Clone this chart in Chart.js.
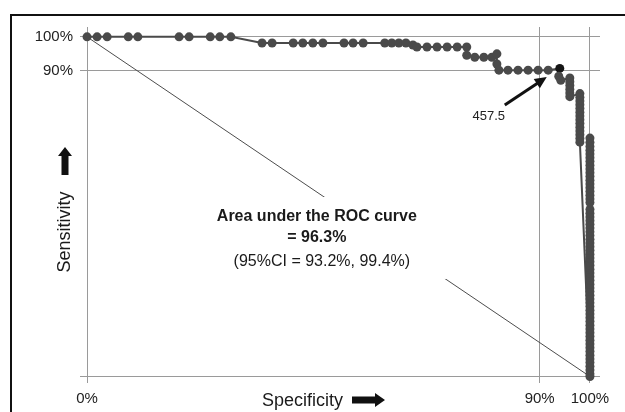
<!DOCTYPE html>
<html><head><meta charset="utf-8">
<script src="https://cdn.jsdelivr.net/npm/chart.js@4/dist/chart.umd.min.js"></script>
<style>html,body{margin:0;padding:0;background:#fff}#wrap{width:625px;height:412px;position:relative}canvas{display:block}</style>
</head><body><div id="wrap"><canvas id="c" width="625" height="412"></canvas></div>
<script>
// ---- data ----
const specificity = [
  0, 2.0, 4.0, 8.2, 10.1, 18.3, 20.3, 24.5, 26.4, 28.6,
  34.8, 36.8, 41.0, 42.9, 44.9, 46.9, 51.1, 52.9, 54.9, 59.2, 60.6, 62.0, 63.4, 64.8,
  65.6, 67.6, 69.6, 71.6, 73.6, 75.5,
  75.5, 77.1, 78.9, 80.5, 81.5, 81.5,
  81.9, 83.7, 85.7, 87.7, 89.7, 91.7,
  94.0,
  93.8, 94.2,
  96.0, 96.0, 96.0, 96.0, 96.0, 96.0,
  98.0, 98.0, 98.0, 98.0, 98.0, 98.0, 98.0, 98.0, 98.0, 98.0, 98.0, 98.0, 98.0, 98.0,
  100, 100, 100, 100, 100, 100, 100, 100, 100, 100, 100, 100, 100, 100, 100, 100,
  100, 100, 100, 100, 100, 100, 100, 100, 100, 100, 100, 100, 100, 100, 100, 100,
  100, 100, 100, 100, 100, 100, 100, 100, 100, 100, 100, 100, 100, 100,
  100, 100, 100, 100, 100, 100, 100, 100, 100, 100, 100, 100, 100, 100, 100, 100, 100, 100
];
const sensitivity = [
  100, 100, 100, 100, 100, 100, 100, 100, 100, 100,
  98.2, 98.2, 98.2, 98.2, 98.2, 98.2, 98.2, 98.2, 98.2, 98.2, 98.2, 98.2, 98.2, 97.6,
  97.0, 97.0, 97.0, 97.0, 97.0, 97.0,
  94.6, 94.0, 94.0, 94.0, 95.0, 92.0,
  90.2, 90.2, 90.2, 90.2, 90.2, 90.2,
  90.7,
  88.4, 87.2,
  87.9, 86.8, 85.7, 84.6, 83.5, 82.4,
  83.3, 82.2, 81.1, 80.0, 78.9, 77.8, 76.7, 75.6, 74.5, 73.4, 72.3, 71.2, 70.1, 69.0,
  0, 0.8, 1.9, 3.0, 4.1, 5.2, 6.3, 7.4, 8.5, 9.6, 10.7, 11.8, 12.9, 14.0, 15.1, 16.2,
  17.3, 18.4, 19.5, 20.6, 21.7, 22.8, 23.9, 25.0, 26.1, 27.2, 28.3, 29.4, 30.5, 31.6, 32.7, 33.8,
  34.9, 36.0, 37.1, 38.2, 39.3, 40.4, 41.5, 42.6, 43.7, 44.8, 45.9, 47.0, 48.1, 49.2,
  51.2, 52.3, 53.4, 54.5, 55.6, 56.7, 57.8, 58.9, 60.0, 61.1, 62.2, 63.3, 64.4, 65.5, 66.6, 67.7, 68.9, 70.2
];
const cutoffIndex = 42;           // highlighted optimal cut-off point
const cutoffLabel = '457.5';
const xTickValues = [0, 90, 100];
const yTickValues = [0, 90, 100];
const chanceX = [0, 100];
const chanceY = [100, 0];
const aucLines = ['Area under the ROC curve', '= 96.3%'];
const ciLine = '(95%CI = 93.2%, 99.4%)';
const aucAnchor = {x: 45.7, y: 45.8};
const xTitle = 'Specificity';
const yTitle = 'Sensitivity';

// ---- build chart ----
const FONT = "'Liberation Sans', Arial, Helvetica, sans-serif";
const curvePts = specificity.map((v, i) => ({x: v, y: sensitivity[i]}));
const chancePts = chanceX.map((v, i) => ({x: v, y: chanceY[i]}));
const ptColors = specificity.map((_, i) => i === cutoffIndex ? '#151515' : '#4a4a4a');

function arrowHead(ctx, x1, y1, x2, y2, len, wid) {
  const a = Math.atan2(y2 - y1, x2 - x1);
  ctx.beginPath();
  ctx.moveTo(x2, y2);
  ctx.lineTo(x2 - len * Math.cos(a) + wid / 2 * Math.sin(a), y2 - len * Math.sin(a) - wid / 2 * Math.cos(a));
  ctx.lineTo(x2 - len * Math.cos(a) - wid / 2 * Math.sin(a), y2 - len * Math.sin(a) + wid / 2 * Math.cos(a));
  ctx.closePath();
  ctx.fill();
}
function blockArrow(ctx, x1, y1, x2, y2, shaft, headLen, headWid) {
  const a = Math.atan2(y2 - y1, x2 - x1);
  const L = Math.hypot(x2 - x1, y2 - y1);
  ctx.save();
  ctx.translate(x1, y1);
  ctx.rotate(a);
  ctx.beginPath();
  ctx.moveTo(0, -shaft / 2);
  ctx.lineTo(L - headLen, -shaft / 2);
  ctx.lineTo(L - headLen, -headWid / 2);
  ctx.lineTo(L, 0);
  ctx.lineTo(L - headLen, headWid / 2);
  ctx.lineTo(L - headLen, shaft / 2);
  ctx.lineTo(0, shaft / 2);
  ctx.closePath();
  ctx.fill();
  ctx.restore();
}

const decor = {
  id: 'decor',
  beforeDraw(chart) {
    const ctx = chart.ctx;
    ctx.save();
    ctx.fillStyle = '#fff';
    ctx.fillRect(0, 0, chart.width, chart.height);
    ctx.restore();
  },
  afterDatasetsDraw(chart) {
    const {ctx, scales: {x, y}} = chart;
    const cx = x.getPixelForValue(aucAnchor.x);
    const by = y.getPixelForValue(aucAnchor.y);
    ctx.save();
    ctx.fillStyle = '#fff';
    ctx.fillRect(cx - 117, by - 24, 247, 82);
    ctx.fillStyle = '#1a1a1a';
    ctx.textAlign = 'center';
    ctx.textBaseline = 'alphabetic';
    ctx.font = 'bold 16px ' + FONT;
    ctx.fillText(aucLines[0], cx, by);
    ctx.fillText(aucLines[1], cx, by + 21);
    ctx.font = '16px ' + FONT;
    ctx.fillText(ciLine, cx + 5, by + 45);

    // cut-off annotation arrow
    const px = x.getPixelForValue(specificity[cutoffIndex]);
    const py = y.getPixelForValue(sensitivity[cutoffIndex]);
    const tipX = px - 13, tipY = py + 8.5;
    const tailX = tipX - 42, tailY = tipY + 28;
    ctx.strokeStyle = '#111';
    ctx.fillStyle = '#111';
    ctx.lineWidth = 3;
    const a = Math.atan2(tipY - tailY, tipX - tailX);
    ctx.beginPath();
    ctx.moveTo(tailX, tailY);
    ctx.lineTo(tipX - 8 * Math.cos(a), tipY - 8 * Math.sin(a));
    ctx.stroke();
    arrowHead(ctx, tailX, tailY, tipX, tipY, 12, 11);
    ctx.font = '13px ' + FONT;
    ctx.fillStyle = '#222';
    ctx.textBaseline = 'middle';
    ctx.fillText(cutoffLabel, tailX - 16, tailY + 11.5);
    ctx.restore();
  },
  afterDraw(chart) {
    const {ctx} = chart;
    ctx.save();
    // frame
    ctx.strokeStyle = '#111';
    ctx.lineWidth = 2;
    ctx.beginPath();
    ctx.moveTo(11, 412);
    ctx.lineTo(11, 15);
    ctx.lineTo(625, 15);
    ctx.stroke();
    // y title
    ctx.fillStyle = '#1a1a1a';
    ctx.font = '18px ' + FONT;
    ctx.save();
    ctx.translate(65, 232);
    ctx.rotate(-Math.PI / 2);
    ctx.textAlign = 'center';
    ctx.textBaseline = 'middle';
    ctx.fillText(yTitle, 0, 0);
    ctx.restore();
    ctx.fillStyle = '#111';
    blockArrow(ctx, 65, 175, 65, 147, 7, 9, 14);
    // x title
    ctx.fillStyle = '#1a1a1a';
    ctx.textAlign = 'left';
    ctx.textBaseline = 'alphabetic';
    ctx.fillText(xTitle, 262, 406);
    ctx.fillStyle = '#111';
    blockArrow(ctx, 352, 400, 385, 400, 7, 10, 14);
    ctx.restore();
  }
};

new Chart(document.getElementById('c'), {
  type: 'scatter',
  data: {
    datasets: [
      {
        data: curvePts,
        showLine: true,
        borderColor: '#4a4a4a',
        borderWidth: 2,
        pointRadius: 4.5,
        pointBorderWidth: 0,
        pointBackgroundColor: ptColors,
        pointBorderColor: ptColors,
        order: 1
      },
      {
        data: chancePts,
        showLine: true,
        borderColor: '#4d4d4d',
        borderWidth: 1,
        pointRadius: 0,
        order: 2
      }
    ]
  },
  options: {
    responsive: false,
    devicePixelRatio: 1,
    animation: false,
    layout: {padding: {top: 27, right: 25, left: 0, bottom: 0}},
    plugins: {legend: {display: false}, tooltip: {enabled: false}},
    scales: {
      x: {
        type: 'linear', min: -1.4, max: 102,
        afterBuildTicks: s => { s.ticks = xTickValues.map(v => ({value: v})); },
        afterFit: s => { s.height = 29; },
        grid: {color: '#9a9a9a', lineWidth: 1, drawTicks: false},
        border: {display: false},
        ticks: {
          padding: 7, color: '#222', font: {family: FONT, size: 15},
          maxRotation: 0, autoSkip: false,
          callback: v => v + '%'
        }
      },
      y: {
        type: 'linear', min: -1.9, max: 102.9,
        afterBuildTicks: s => { s.ticks = yTickValues.map(v => ({value: v})); },
        afterFit: s => { s.width = 80; },
        grid: {color: '#9a9a9a', lineWidth: 1, drawTicks: false},
        border: {display: false},
        ticks: {
          padding: 7, color: '#222', font: {family: FONT, size: 15},
          autoSkip: false,
          callback: v => v === 0 ? '' : v + '%'
        }
      }
    }
  },
  plugins: [decor]
});
</script>
</body></html>
